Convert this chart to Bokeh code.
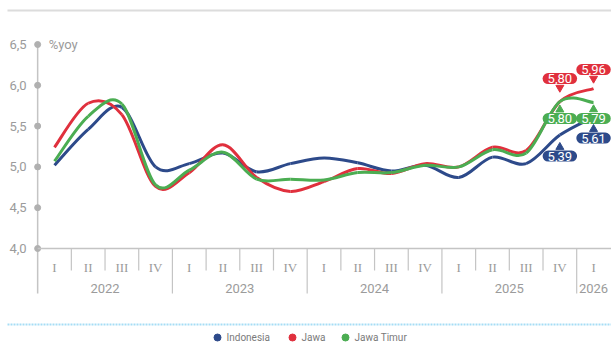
from bokeh.plotting import figure
from bokeh.models import ColumnDataSource, Range1d
from bokeh.core.properties import value
from bokeh.embed import file_html
from bokeh.resources import INLINE

# ---- data: quarterly growth, % yoy ----
quarters = ["I", "II", "III", "IV", "I", "II", "III", "IV", "I", "II", "III", "IV",
            "I", "II", "III", "IV", "I"]
years = ["2022", "2023", "2024", "2025", "2026"]
year_quarters = [4, 4, 4, 4, 1]
y_ticks = [4.0, 4.5, 5.0, 5.5, 6.0, 6.5]

indonesia = [5.02, 5.46, 5.73, 5.00, 5.04, 5.17, 4.94, 5.04, 5.11, 5.05, 4.95, 5.02,
             4.87, 5.12, 5.04, 5.39, 5.61]
jawa = [5.24, 5.78, 5.64, 4.76, 4.93, 5.27, 4.87, 4.70, 4.82, 4.98, 4.92, 5.04,
        5.00, 5.24, 5.20, 5.80, 5.96]
jawa_timur = [5.07, 5.62, 5.77, 4.78, 4.96, 5.18, 4.85, 4.85, 4.84, 4.93, 4.93, 5.02,
              5.00, 5.21, 5.17, 5.80, 5.79]

series_names = ["Indonesia", "Jawa", "Jawa Timur"]
series_values = [indonesia, jawa, jawa_timur]
series_colors = ["#2d4a8a", "#e0303d", "#4bad52"]
# last two points carry value tags
tag_count = 2
tag_offsets = [[21, 21], [-23, -19], [17, 16]]   # px, screen-down positive

W, H = 611, 349
GRAY_TXT = "#9b9b9b"
GRAY_LINE = "#c4c4c4"

# ---- scales: category index on x, value on y ----
ux = 33.69          # px per category
uy = 81.6           # px per 1.0 %
x0 = -54 / ux
x1 = x0 + W / ux
y1 = 6.5 + 44 / uy
y0 = y1 - H / uy


def X(px):
    return x0 + px / ux


def Y(px):
    return y1 - px / uy


p = figure(width=W, height=H, output_backend="svg", toolbar_location=None,
           x_range=Range1d(x0, x1), y_range=Range1d(y0, y1),
           x_axis_type=None, y_axis_type=None, min_border=0)
p.grid.visible = False
p.outline_line_color = None
p.background_fill_color = "white"
p.border_fill_color = "white"

n = len(quarters)
idx = list(range(n))

# ---- frame rules ----
p.line([X(7), X(W)], [Y(10), Y(10)], line_color="#dcdcdc", line_width=2)
p.line([X(7), X(W)], [Y(324), Y(324)], line_color="#a6ddf5", line_width=2,
       line_dash="2 1")

# ---- value axis ----
p.segment(x0=[-0.5], y0=[Y(293)], x1=[-0.5], y1=[y_ticks[-1]],
          line_color=GRAY_LINE, line_width=1.5)
p.scatter(x=[-0.5] * len(y_ticks), y=y_ticks, size=6, color="#b0b0b0")
p.text(x=[-0.5] * len(y_ticks), y=y_ticks,
       text=[f"{t:.1f}".replace(".", ",") for t in y_ticks],
       x_offset=-11, text_align="right", text_baseline="middle",
       text_font=value("Roboto"), text_font_size="13px", text_color=GRAY_TXT)
p.text(x=[-0.5], y=[y_ticks[-1]], text=["%yoy"], x_offset=11,
       text_align="left", text_baseline="middle",
       text_font=value("Roboto"), text_font_size="13px", text_color=GRAY_TXT)

# ---- category axis ----
p.segment(x0=[-0.5], y0=[y_ticks[0]], x1=[x1], y1=[y_ticks[0]],
          line_color=GRAY_LINE, line_width=1.5)
year_edges = []
acc = 0
for k in year_quarters:
    acc += k
    year_edges.append(acc - 0.5)
q_sep = [i + 0.5 for i in range(n - 1) if (i + 0.5) not in year_edges]
y_sep = [e for e in year_edges if e < n - 0.5]
p.segment(x0=q_sep, y0=[y_ticks[0]] * len(q_sep), x1=q_sep, y1=[Y(270)] * len(q_sep),
          line_color=GRAY_LINE, line_width=1.2)
p.segment(x0=y_sep, y0=[y_ticks[0]] * len(y_sep), x1=y_sep, y1=[Y(293)] * len(y_sep),
          line_color=GRAY_LINE, line_width=1.2)
p.text(x=idx, y=[Y(267)] * n, text=quarters, text_align="center",
       text_baseline="middle", text_font=value("Liberation Serif"),
       text_font_size="13px", text_color=GRAY_TXT)
year_centers = []
start = 0
for k in year_quarters:
    year_centers.append(start + (k - 1) / 2)
    start += k
p.text(x=year_centers, y=[Y(288)] * len(years), text=years, text_align="center",
       text_baseline="middle", text_font=value("Roboto"), text_font_size="13px",
       text_color=GRAY_TXT)


# ---- smoothed series (cubic Bezier through each point pair) ----
def bezier_source(vals):
    pts = list(zip(idx, vals))
    rows = dict(x0=[], y0=[], x1=[], y1=[], cx0=[], cy0=[], cx1=[], cy1=[])
    for i in range(len(pts) - 1):
        pa = pts[max(i - 1, 0)]
        pb = pts[i]
        pc = pts[i + 1]
        pd = pts[min(i + 2, len(pts) - 1)]
        rows["x0"].append(pb[0]); rows["y0"].append(pb[1])
        rows["x1"].append(pc[0]); rows["y1"].append(pc[1])
        rows["cx0"].append(pb[0] + (pc[0] - pa[0]) / 6)
        rows["cy0"].append(pb[1] + (pc[1] - pa[1]) / 6)
        rows["cx1"].append(pc[0] - (pd[0] - pb[0]) / 6)
        rows["cy1"].append(pc[1] - (pd[1] - pb[1]) / 6)
    return ColumnDataSource(rows)


for name, vals, col in zip(series_names, series_values, series_colors):
    p.bezier(x0="x0", y0="y0", x1="x1", y1="y1", cx0="cx0", cy0="cy0",
             cx1="cx1", cy1="cy1", source=bezier_source(vals),
             line_color=col, line_width=3)

# ---- value tags on the last points ----
for vals, col, offs in zip(series_values, series_colors, tag_offsets):
    xs = idx[-tag_count:]
    vs = vals[-tag_count:]
    for xv, v, off in zip(xs, vs, offs):
        up = off < 0
        ptr = off + 9 if up else off - 9
        p.scatter(x=[xv], y=[v - ptr / uy],
                  marker="inverted_triangle" if up else "triangle",
                  size=8, color=col)
        p.text(x=[xv], y=[v], y_offset=off,
               text=[f"{v:.2f}".replace(".", ",")],
               text_align="center", text_baseline="middle",
               text_font=value("Roboto"), text_font_size="13px",
               text_color="white", background_fill_color=col,
               border_radius=7,
               padding=dict(left=5, right=5, top=1, bottom=1))

# ---- legend (dot + label per series) ----
legend_dot_px = [217, 292, 345]
p.scatter(x=[X(v) for v in legend_dot_px], y=[Y(337)] * 3, size=7,
          color=series_colors)
p.text(x=[X(v + 9) for v in legend_dot_px], y=[Y(337)] * 3, text=series_names,
       text_align="left", text_baseline="middle", text_font=value("Roboto"),
       text_font_size="10px", text_color="#7a7a7a")

open("out.html", "w").write(file_html(p, INLINE))
